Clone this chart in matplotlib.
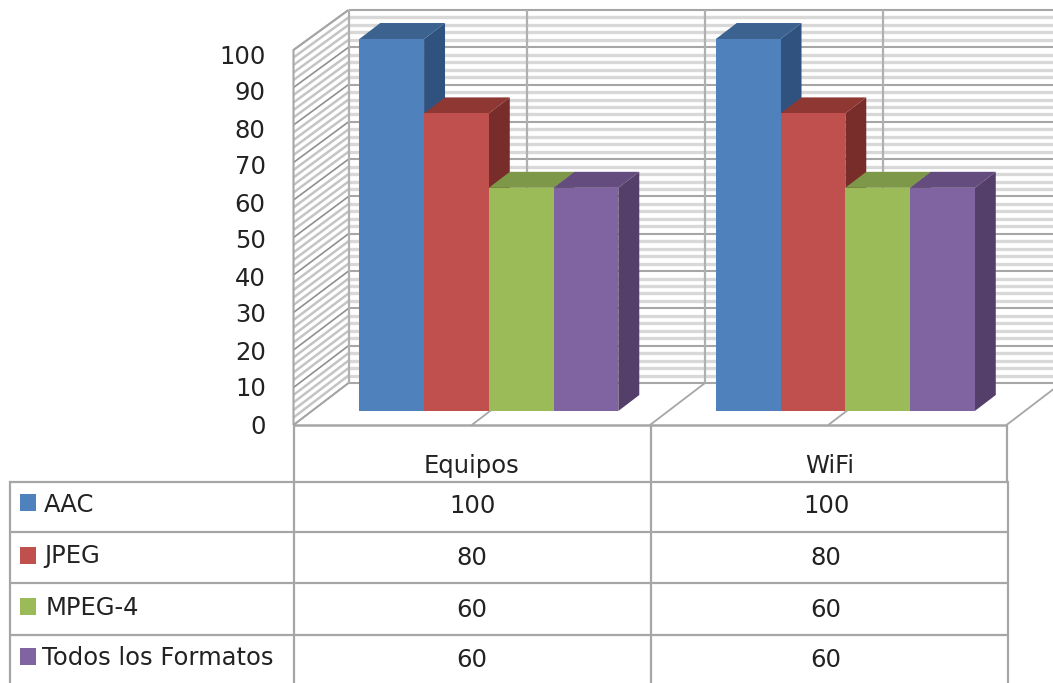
import matplotlib
matplotlib.use("Agg")
import matplotlib.pyplot as plt
from matplotlib.patches import Polygon, Rectangle

# Chart data
categories = ["Equipos", "WiFi"]
series_names = ["AAC", "JPEG", "MPEG-4", "Todos los Formatos"]
aac = [100, 100]
jpeg = [80, 80]
mpeg4 = [60, 60]
todos = [60, 60]
series_values = [aac, jpeg, mpeg4, todos]
y_ticks = list(range(0, 101, 10))

# Face colours per series: front, top, side
front_colors = ["#4F81BD", "#C0504D", "#9BBB59", "#8064A2"]
top_colors = ["#3C6390", "#8F3733", "#7D9848", "#644C7E"]
side_colors = ["#30527F", "#792D2A", "#617A33", "#533F6A"]

GRID_MAJOR = "#a6a6a6"
BACK_MINOR = "#d8d8d8"
SIDE_MINOR = "#c4c4c4"
TEXT = "#222222"
FONT = "DejaVu Sans"
FS = 17.5

W, H = 1053, 683
fig = plt.figure(figsize=(W / 100, H / 100), dpi=100, facecolor="white")

# Front plane of the box: categories on x, values on y
LEFT, RIGHT, BOTTOM, TOP = 293.5, 1006.5, 425.0, 50.0
ax = fig.add_axes([LEFT / W, 1 - BOTTOM / H, (RIGHT - LEFT) / W, (BOTTOM - TOP) / H])
ax.set_xlim(0, len(categories))
ax.set_ylim(0, 100)
ax.patch.set_visible(False)
for spine in ax.spines.values():
    spine.set_visible(False)
ax.set_xticks([])
ax.set_yticks([])

PX_X = (RIGHT - LEFT) / len(categories)
PX_Y = (BOTTOM - TOP) / 100
DEPTH_X = 55 / PX_X
DEPTH_Y = 42 / PX_Y


def oblique(x, v, d, scale=None):
    """Map category x, value v and depth d (0 front, 1 back) onto the front plane."""
    s = (1 - 0.0053 * d) if scale is None else scale
    return (x + d * DEPTH_X, v * s + d * DEPTH_Y)


def draw_line(points, color, lw, z=1):
    xs, ys = zip(*points)
    ax.plot(xs, ys, color=color, lw=lw, clip_on=False, zorder=z,
            solid_capstyle="butt")


# Walls: minor lines every 2 units, major lines every 10
n_cat = len(categories)
for v in range(0, 101, 2):
    if v % 10:
        draw_line([oblique(0, v, 0), oblique(0, v, 1)], SIDE_MINOR, 1.8)
        draw_line([oblique(0, v, 1), oblique(n_cat, v, 1)], BACK_MINOR, 2.4)
for v in y_ticks:
    draw_line([oblique(0, v, 0), oblique(0, v, 1)], "#8f8f8f", 1.2)
    draw_line([oblique(0, v, 1), oblique(n_cat, v, 1)], GRID_MAJOR, 1.5)

# Left wall outline, back wall verticals and floor lines
draw_line([oblique(0, 0, 0), oblique(0, 100, 0), oblique(0, 100, 1)], GRID_MAJOR, 1.5)
for k in range(2 * n_cat + 1):
    x = k / 2
    draw_line([oblique(x, 0, 1), oblique(x, 100, 1)], "#b0b0b0", 1.6)
    draw_line([oblique(x, 0, 0), oblique(x, 0, 1)], GRID_MAJOR, 1.3)
draw_line([oblique(0, 0, 0), oblique(n_cat, 0, 0)], GRID_MAJOR, 1.8)

# Bars, drawn left to right so each one overlaps its neighbour's side
GAP = 47.5 / PX_X
BAR_W = 64.75 / PX_X
D0, D1 = 1 / 3, 0.714
BAR_SCALE = 0.992
for c in range(n_cat):
    for j, values in enumerate(series_values):
        v = values[c]
        x0 = c + GAP + j * BAR_W
        x1 = x0 + BAR_W
        b = lambda x, val, d: oblique(x, val, d, BAR_SCALE)
        ax.add_patch(Polygon([b(x1, 0, D0), b(x1, 0, D1), b(x1, v, D1), b(x1, v, D0)],
                             fc=side_colors[j], ec="none", clip_on=False, zorder=2))
        ax.add_patch(Polygon([b(x0, v, D0), b(x0, v, D1), b(x1, v, D1), b(x1, v, D0)],
                             fc=top_colors[j], ec="none", clip_on=False, zorder=2))
        ax.add_patch(Polygon([b(x0, 0, D0), b(x1, 0, D0), b(x1, v, D0), b(x0, v, D0)],
                             fc=front_colors[j], ec="none", clip_on=False, zorder=2))

# Value labels sit on their own slightly tighter scale beside the box
LABEL_BOTTOM, LABEL_TOP = 424.0, 54.0
lab = fig.add_axes([LEFT / W, 1 - LABEL_BOTTOM / H, 0.001, (LABEL_BOTTOM - LABEL_TOP) / H])
lab.set_ylim(0, 100)
lab.set_xticks([])
lab.patch.set_visible(False)
for spine in lab.spines.values():
    spine.set_visible(False)
lab.set_yticks(y_ticks)
lab.set_yticklabels([str(t) for t in y_ticks], fontsize=FS, family=FONT, color=TEXT)
lab.tick_params(axis="y", length=0, pad=20)

# Data table below the chart, laid out in figure pixels
tb = fig.add_axes([0, 0, 1, 1])
tb.axis("off")
tb.patch.set_visible(False)

col_x = [9.5, 293.5, 650.5, 1007.5]
row_y = [482, 532, 583, 635, 690]
row_text_x = [44, 44, 46, 42]
row_text_y = [505, 556, 608, 658]
val_text_y = [506, 558, 610, 660]
swatch_y = [494, 547, 598, 648]
col_centers = [472, 826]

for y in row_y[:-1]:
    tb.plot([col_x[0], col_x[-1]], [y, y], color=GRID_MAJOR, lw=1.6, solid_capstyle="butt")
tb.plot([col_x[0]] * 2, [482, 690], color=GRID_MAJOR, lw=1.6)
tb.plot([col_x[1]] * 2, [425, 690], color=GRID_MAJOR, lw=1.6)
tb.plot([col_x[2]] * 2, [425, 690], color=GRID_MAJOR, lw=1.6)
tb.plot([1006.5] * 2, [425, 482], color=GRID_MAJOR, lw=1.6)
tb.plot([col_x[3]] * 2, [482, 690], color=GRID_MAJOR, lw=1.6)
tb.set_xlim(0, W)
tb.set_ylim(H, 0)

for name, cx in zip(categories, [472, 830]):
    tb.text(cx, 466, name, ha="center", va="center", fontsize=FS, family=FONT, color=TEXT)

for i, name in enumerate(series_names):
    tb.add_patch(Rectangle((20, swatch_y[i]), 16, 17, fc=front_colors[i], ec="none"))
    tb.text(row_text_x[i], row_text_y[i], name, ha="left", va="center", fontsize=FS,
            family=FONT, color=TEXT)
    for cx, v in zip(col_centers, series_values[i]):
        tb.text(cx, val_text_y[i], str(v), ha="center", va="center", fontsize=FS,
                family=FONT, color=TEXT)

fig.savefig("out.png", dpi=100)
